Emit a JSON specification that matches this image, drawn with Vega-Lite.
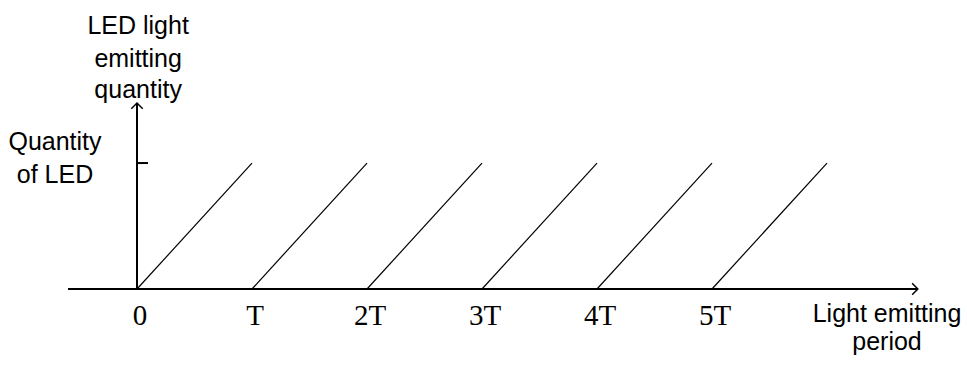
{
  "$schema": "https://vega.github.io/schema/vega-lite/v6.json",
  "width": 967,
  "height": 365,
  "autosize": {"type": "fit", "contains": "padding"},
  "padding": 0,
  "background": "white",
  "config": {"view": {"stroke": null}},
  "datasets": {
    "axes": [
      {"part": "x axis", "x": -0.6, "y": 0, "x2": 6.79, "y2": 0},
      {"part": "y axis", "x": 0, "y": 0, "x2": 0, "y2": 1.476},
      {"part": "y tick", "x": 0, "y": 1, "x2": 0.096, "y2": 1}
    ],
    "ramps": [
      {"period": 0, "x": 0, "y": 0, "x2": 1, "y2": 1},
      {"period": 1, "x": 1, "y": 0, "x2": 2, "y2": 1},
      {"period": 2, "x": 2, "y": 0, "x2": 3, "y2": 1},
      {"period": 3, "x": 3, "y": 0, "x2": 4, "y2": 1},
      {"period": 4, "x": 4, "y": 0, "x2": 5, "y2": 1},
      {"period": 5, "x": 5, "y": 0, "x2": 6, "y2": 1}
    ],
    "arrows": [
      {"dir": "right", "x": 6.79, "y": 0},
      {"dir": "up", "x": 0, "y": 1.476}
    ],
    "ticks": [
      {"label": "0", "x": 0, "y": -0.286},
      {"label": "T", "x": 1, "y": -0.286},
      {"label": "2T", "x": 2, "y": -0.286},
      {"label": "3T", "x": 3, "y": -0.286},
      {"label": "4T", "x": 4, "y": -0.286},
      {"label": "5T", "x": 5, "y": -0.286}
    ],
    "titles": [
      {"text": "LED light", "x": 0.01, "y": 2.024},
      {"text": "emitting", "x": 0.01, "y": 1.762},
      {"text": "quantity", "x": 0.01, "y": 1.516},
      {"text": "Quantity", "x": -0.713, "y": 1.103},
      {"text": "of LED", "x": -0.713, "y": 0.841},
      {"text": "Light emitting", "x": 6.522, "y": -0.262},
      {"text": "period", "x": 6.522, "y": -0.484}
    ]
  },
  "layer": [
    {
      "data": {"name": "axes"},
      "mark": {"type": "rule", "color": "#000000", "strokeWidth": 2},
      "encoding": {
        "x": {"field": "x", "type": "quantitative", "axis": null, "scale": {"domain": [-1.1913, 7.2174], "nice": false, "zero": false}},
        "y": {"field": "y", "type": "quantitative", "axis": null, "scale": {"domain": [-0.603, 2.294], "nice": false, "zero": false}},
        "x2": {"field": "x2"},
        "y2": {"field": "y2"}
      }
    },
    {
      "data": {"name": "ramps"},
      "mark": {"type": "rule", "color": "#000000", "strokeWidth": 1.2},
      "encoding": {
        "x": {"field": "x", "type": "quantitative", "axis": null, "scale": {"domain": [-1.1913, 7.2174], "nice": false, "zero": false}},
        "y": {"field": "y", "type": "quantitative", "axis": null, "scale": {"domain": [-0.603, 2.294], "nice": false, "zero": false}},
        "x2": {"field": "x2"},
        "y2": {"field": "y2"}
      }
    },
    {
      "data": {"name": "arrows"},
      "mark": {"type": "point", "filled": false, "stroke": "#000000", "strokeWidth": 1.5, "opacity": 1},
      "encoding": {
        "x": {"field": "x", "type": "quantitative", "axis": null, "scale": {"domain": [-1.1913, 7.2174], "nice": false, "zero": false}},
        "y": {"field": "y", "type": "quantitative", "axis": null, "scale": {"domain": [-0.603, 2.294], "nice": false, "zero": false}},
        "shape": {"field": "dir", "type": "nominal", "legend": null, "scale": {"domain": ["right", "up"], "range": ["M-1,-1L0,0L-1,1", "M-1,1L0,0L1,1"]}},
        "size": {"value": 130}
      }
    },
    {
      "data": {"name": "ticks"},
      "mark": {"type": "text", "font": "Liberation Serif", "fontSize": 29, "color": "#000000", "align": "center", "baseline": "alphabetic", "dx": 3},
      "encoding": {
        "x": {"field": "x", "type": "quantitative", "axis": null, "scale": {"domain": [-1.1913, 7.2174], "nice": false, "zero": false}},
        "y": {"field": "y", "type": "quantitative", "axis": null, "scale": {"domain": [-0.603, 2.294], "nice": false, "zero": false}},
        "text": {"field": "label"}
      }
    },
    {
      "data": {"name": "titles"},
      "mark": {"type": "text", "font": "Liberation Sans", "fontSize": 25, "color": "#000000", "align": "center", "baseline": "alphabetic"},
      "encoding": {
        "x": {"field": "x", "type": "quantitative", "axis": null, "scale": {"domain": [-1.1913, 7.2174], "nice": false, "zero": false}},
        "y": {"field": "y", "type": "quantitative", "axis": null, "scale": {"domain": [-0.603, 2.294], "nice": false, "zero": false}},
        "text": {"field": "text"}
      }
    }
  ]
}
